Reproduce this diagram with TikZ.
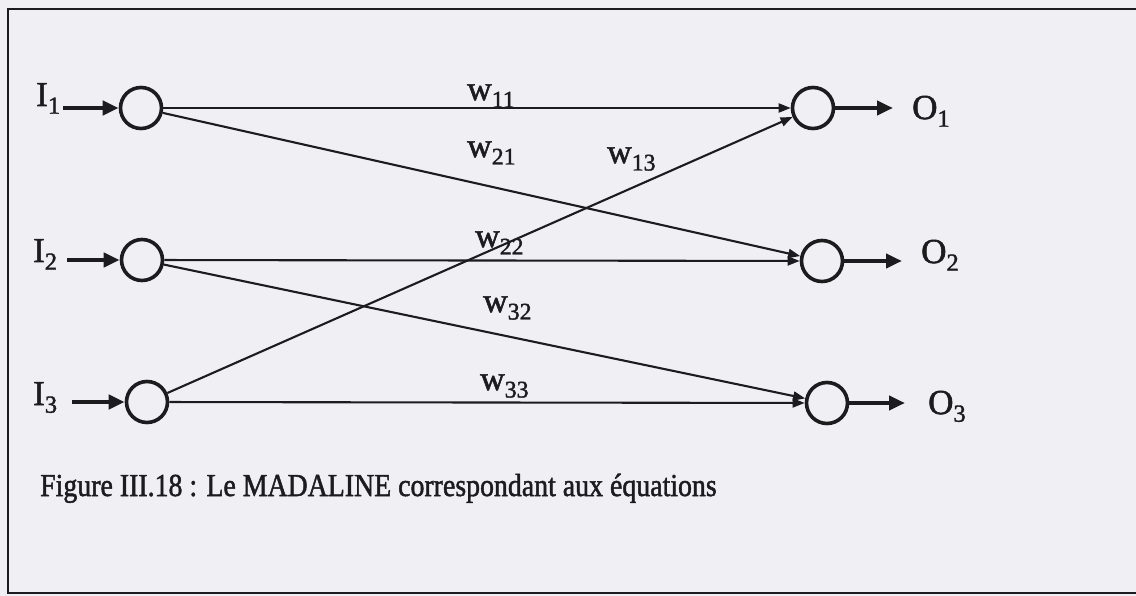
\documentclass[tikz,border=0pt]{standalone}
\usepackage{fontspec}
\setmainfont{Liberation Serif}[FakeBold=1.6]
\usetikzlibrary{arrows.meta}
\newcommand\subs[1]{\raisebox{-0.22em}{\scalebox{0.7}{#1}}}
\definecolor{ink}{RGB}{28,28,30}
\definecolor{paper}{RGB}{240,240,244}
\begin{document}
\begin{tikzpicture}[x=1pt,y=-1pt,
  neuron/.style={circle,draw=ink,line width=3.6pt,minimum size=41pt,inner sep=0pt},
  iolbl/.style={text=ink,anchor=base west,inner sep=0pt,font=\fontsize{35}{40}\selectfont},
  wlbl/.style={text=ink,anchor=base west,inner sep=0pt,font=\fontsize{34}{38}\selectfont},
  thickarrow/.style={draw=ink,line width=4pt,-{Triangle[length=16pt,width=14pt]}},
  conn/.style={draw=ink,line width=2.1pt,-{Triangle[length=12pt,width=9pt]}},
  frame/.style={draw=ink,line width=2.8pt}
]
\fill[paper] (0,0) rectangle (1136,596);
\useasboundingbox (0,0) rectangle (1136,596);
% frame
\coordinate (ftr) at (1136,9);
\coordinate (ftl) at (8,9);
\coordinate (fbl) at (8,593);
\coordinate (fbr) at (1136,593);
\draw[frame] (ftr) -- (ftl) -- (fbl) -- (fbr);
% neurons
\node[neuron] (i1) at (141,108) {};
\node[neuron] (i2) at (142,260) {};
\node[neuron] (i3) at (147,402) {};
\node[neuron] (o1) at (813,108) {};
\node[neuron] (o2) at (822,261) {};
\node[neuron] (o3) at (827,403) {};
% inputs
\node[iolbl] (I1) at (36,106) {I\subs{1}};
\node[iolbl] (I2) at (33,262) {I\subs{2}};
\node[iolbl] (I3) at (33,405) {I\subs{3}};
\coordinate (a1) at (63,108);
\coordinate (a2) at (67,260);
\coordinate (a3) at (72,402);
\draw[thickarrow] (a1) -- (i1);
\draw[thickarrow] (a2) -- (i2);
\draw[thickarrow] (a3) -- (i3);
% outputs
\coordinate (b1) at (893,108);
\coordinate (b2) at (902,261);
\coordinate (b3) at (905,403);
\draw[thickarrow] (o1) -- (b1);
\draw[thickarrow] (o2) -- (b2);
\draw[thickarrow] (o3) -- (b3);
\node[iolbl] (O1) at (912,119) {O\subs{1}};
\node[iolbl] (O2) at (921,263) {O\subs{2}};
\node[iolbl] (O3) at (928,414) {O\subs{3}};
% connections
\draw[conn] (i1) -- (o1);
\draw[conn] (i1) -- (o2);
\draw[conn] (i2) -- (o2);
\draw[conn] (i2) -- (o3);
\draw[conn] (i3) -- (o1);
\draw[conn] (i3) -- (o3);
% weights
\node[wlbl] (w11) at (467,100) {w\subs{11}};
\node[wlbl] (w21) at (467,157) {w\subs{21}};
\node[wlbl] (w13) at (607,163) {w\subs{13}};
\node[wlbl] (w22) at (475,247) {w\subs{22}};
\node[wlbl] (w32) at (483,312) {w\subs{32}};
\node[wlbl] (w33) at (480,390) {w\subs{33}};
% caption
\node[text=ink,anchor=base west,inner sep=0pt,font=\fontsize{32}{38}\selectfont] (cap) at (40,496)
  {\scalebox{0.87}[1]{Figure III.18 : Le MADALINE correspondant aux équations}};
\end{tikzpicture}
\end{document}
